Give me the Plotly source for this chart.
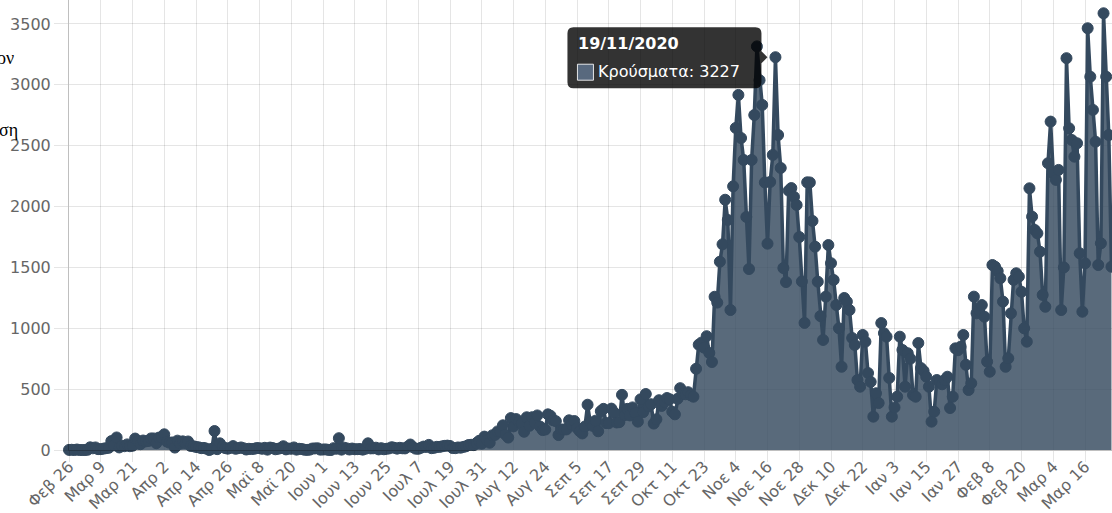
import pandas as pd
import plotly.graph_objects as go

# Daily confirmed cases (Κρούσματα), month by month
feb_2020 = [1, 2, 0, 4]
mar_2020 = [0, 0, 0, 2, 22, 14, 21, 7, 7, 11, 15, 18, 73, 38, 103, 21, 35, 31, 46, 31, 35, 94, 71, 48, 78, 71, 74, 95, 95, 56, 102]
apr_2020 = [101, 129, 69, 60, 62, 20, 77, 52, 71, 56, 70, 33, 31, 25, 22, 15, 17, 11, 0, 10, 156, 7, 55, 27, 16, 11, 17, 32, 10, 15]
may_2020 = [21, 14, 4, 10, 8, 10, 16, 15, 10, 18, 3, 20, 16, 6, 10, 15, 31, 5, 12, 10, 21, 3, 10, 8, 2, 1, 3, 12, 13, 14, 3]
jun_2020 = [4, 5, 1, 0, 15, 10, 97, 3, 19, 13, 4, 12, 6, 7, 8, 3, 10, 55, 13, 14, 19, 5, 15, 6, 10, 13, 23, 18, 11, 18]
jul_2020 = [14, 13, 27, 45, 23, 11, 10, 18, 28, 25, 42, 15, 18, 26, 25, 30, 34, 36, 33, 16, 15, 21, 19, 25, 30, 41, 43, 40, 57, 75, 52]
aug_2020 = [110, 80, 60, 121, 124, 153, 151, 203, 126, 102, 262, 194, 254, 230, 217, 150, 269, 199, 269, 228, 284, 193, 164, 168, 293, 281, 244, 237, 123, 168, 169]
sep_2020 = [169, 244, 211, 238, 181, 155, 136, 193, 372, 227, 198, 241, 154, 319, 338, 221, 220, 340, 308, 226, 229, 453, 286, 338, 284, 350, 305, 233, 416, 311]
oct_2020 = [460, 358, 376, 217, 252, 409, 362, 395, 427, 417, 315, 293, 421, 508, 461, 458, 475, 449, 438, 667, 865, 882, 841, 935, 797, 723, 1259, 1211, 1547, 1690, 2056]
nov_2020 = [1890, 1150, 2166, 2646, 2917, 2563, 2383, 1915, 1487, 2383, 2752, 3316, 3038, 2835, 2198, 1695, 2202, 2424, 3227, 2588, 2317, 1495, 1380, 2131, 2152, 2080, 2013, 1750, 1385, 1044]
dec_2020 = [2199, 2198, 1882, 1670, 1383, 1100, 904, 1260, 1684, 1535, 1397, 1191, 1000, 684, 1249, 1219, 1150, 920, 863, 575, 520, 945, 890, 632, 560, 274, 466, 386, 1043, 960, 931]
jan_2021 = [592, 274, 350, 438, 931, 822, 520, 795, 750, 452, 438, 879, 673, 650, 602, 520, 233, 315, 575, 560, 540, 575, 602, 345, 438, 835, 820, 849, 945, 700, 493]
feb_2021 = [548, 1260, 1123, 1150, 1191, 1095, 726, 643, 1520, 1506, 1470, 1411, 1219, 684, 753, 1123, 1397, 1452, 1424, 1300, 1000, 890, 2150, 1917, 1808, 1780, 1629, 1274]
mar_2021 = [1177, 2356, 2698, 2273, 2219, 2301, 1150, 1500, 3219, 2643, 2547, 2410, 2520, 1616, 1136, 1534, 3465, 3067, 2794, 2533, 1520, 1698, 3588, 3067, 2588, 1506]

cases = (feb_2020 + mar_2020 + apr_2020 + may_2020 + jun_2020 + jul_2020 + aug_2020
         + sep_2020 + oct_2020 + nov_2020 + dec_2020 + jan_2021 + feb_2021 + mar_2021)
dates = pd.date_range("2020-02-26", periods=len(cases), freq="D")

tick_labels = ["Φεβ 26", "Μαρ 9", "Μαρ 21", "Απρ 2", "Απρ 14", "Απρ 26", "Μαϊ 8", "Μαϊ 20",
               "Ιουν 1", "Ιουν 13", "Ιουν 25", "Ιουλ 7", "Ιουλ 19", "Ιουλ 31", "Αυγ 12", "Αυγ 24",
               "Σεπ 5", "Σεπ 17", "Σεπ 29", "Οκτ 11", "Οκτ 23", "Νοε 4", "Νοε 16", "Νοε 28",
               "Δεκ 10", "Δεκ 22", "Ιαν 3", "Ιαν 15", "Ιαν 27", "Φεβ 8", "Φεβ 20", "Μαρ 4", "Μαρ 16"]
tick_dates = [dates[0] + pd.Timedelta(days=12 * i) for i in range(len(tick_labels))]

y_ticks = [0, 500, 1000, 1500, 2000, 2500, 3000, 3500]

series_name = "Κρούσματα"
hover_date = pd.Timestamp("2020-11-19")
hover_value = cases[list(dates).index(hover_date)]

LINE = "#34495e"
FILL = "rgba(52,73,94,0.82)"
GRID = "rgba(0,0,0,0.1)"
AXIS = "rgba(0,0,0,0.25)"
TICKFONT = dict(family="DejaVu Sans", size=16, color="#666666")

fig = go.Figure()
fig.add_trace(go.Scatter(
    x=dates, y=cases, name=series_name, mode="lines+markers",
    fill="tozeroy", fillcolor=FILL,
    line=dict(color=LINE, width=3.5),
    marker=dict(color=LINE, size=11, line=dict(color=LINE, width=1)),
    cliponaxis=False, hoverinfo="skip",
))

fig.update_layout(
    width=1112, height=513, autosize=False,
    margin=dict(l=69, r=0, t=0, b=63, pad=0, autoexpand=False),
    paper_bgcolor="white", plot_bgcolor="white",
    showlegend=False,
    xaxis=dict(
        type="date", automargin=False,
        range=[dates[0], dates[0] + pd.Timedelta(hours=394.2 * 24)],
        tickmode="array", tickvals=tick_dates, ticktext=tick_labels,
        tickangle=-45, tickfont=TICKFONT, ticklabeloverflow="allow",
        ticklabelstandoff=-11,
        showgrid=True, gridcolor=GRID, gridwidth=1,
        ticks="outside", ticklen=11, tickcolor=GRID, tickwidth=1,
        showline=True, linecolor=AXIS, linewidth=1,
        zeroline=False,
    ),
    yaxis=dict(
        automargin=False,
        range=[0, 3697],
        tickmode="array", tickvals=y_ticks,
        tickfont=TICKFONT,
        showgrid=True, gridcolor=GRID, gridwidth=1,
        ticks="outside", ticklen=14, tickcolor=GRID, tickwidth=1,
        showline=True, linecolor=AXIS, linewidth=1,
        zeroline=False,
    ),
)

# Tooltip (drawn relative to the hovered point, in pixel offsets)
tooltip_path = ("M -202,30 L -20,30 Q -14,30 -14,24 L -14,6 L -8,0 L -14,-6 L -14,-25 "
                "Q -14,-31 -20,-31 L -202,-31 Q -208,-31 -208,-25 L -208,24 Q -208,30 -202,30 Z")
fig.add_shape(type="path", xref="x", yref="y", xsizemode="pixel", ysizemode="pixel",
              xanchor=hover_date, yanchor=hover_value, path=tooltip_path,
              fillcolor="rgba(0,0,0,0.8)", line=dict(width=0), layer="above")
fig.add_shape(type="rect", xref="x", yref="y", xsizemode="pixel", ysizemode="pixel",
              xanchor=hover_date, yanchor=hover_value, x0=-198, x1=-182, y0=-23, y1=-7,
              fillcolor="rgb(88,105,126)", line=dict(color="rgba(255,255,255,0.85)", width=1),
              layer="above")
fig.add_annotation(x=hover_date, y=hover_value, xref="x", yref="y", showarrow=False,
                   text="<b>" + hover_date.strftime("%d/%m/%Y") + "</b>",
                   xanchor="left", yanchor="middle", xshift=-199, yshift=14,
                   font=dict(family="DejaVu Sans", size=16, color="white"))
fig.add_annotation(x=hover_date, y=hover_value, xref="x", yref="y", showarrow=False,
                   text=f"{series_name}: {hover_value}",
                   xanchor="left", yanchor="middle", xshift=-179, yshift=-14,
                   font=dict(family="DejaVu Sans", size=16, color="white"))

# Cropped text fragments at the left edge of the reference
fig.add_annotation(x=-0.0505, y=0.872, xref="paper", yref="paper", showarrow=False,
                   text="ον", xanchor="right", yanchor="middle",
                   font=dict(family="Liberation Serif", size=18, color="black"))
fig.add_annotation(x=-0.047, y=0.712, xref="paper", yref="paper", showarrow=False,
                   text="ση", xanchor="right", yanchor="middle",
                   font=dict(family="Liberation Serif", size=18, color="black"))

fig.write_html(
    "out.html",
    config={"displayModeBar": False},
    post_script="document.body.style.margin='0';document.body.style.overflow='hidden';",
)
